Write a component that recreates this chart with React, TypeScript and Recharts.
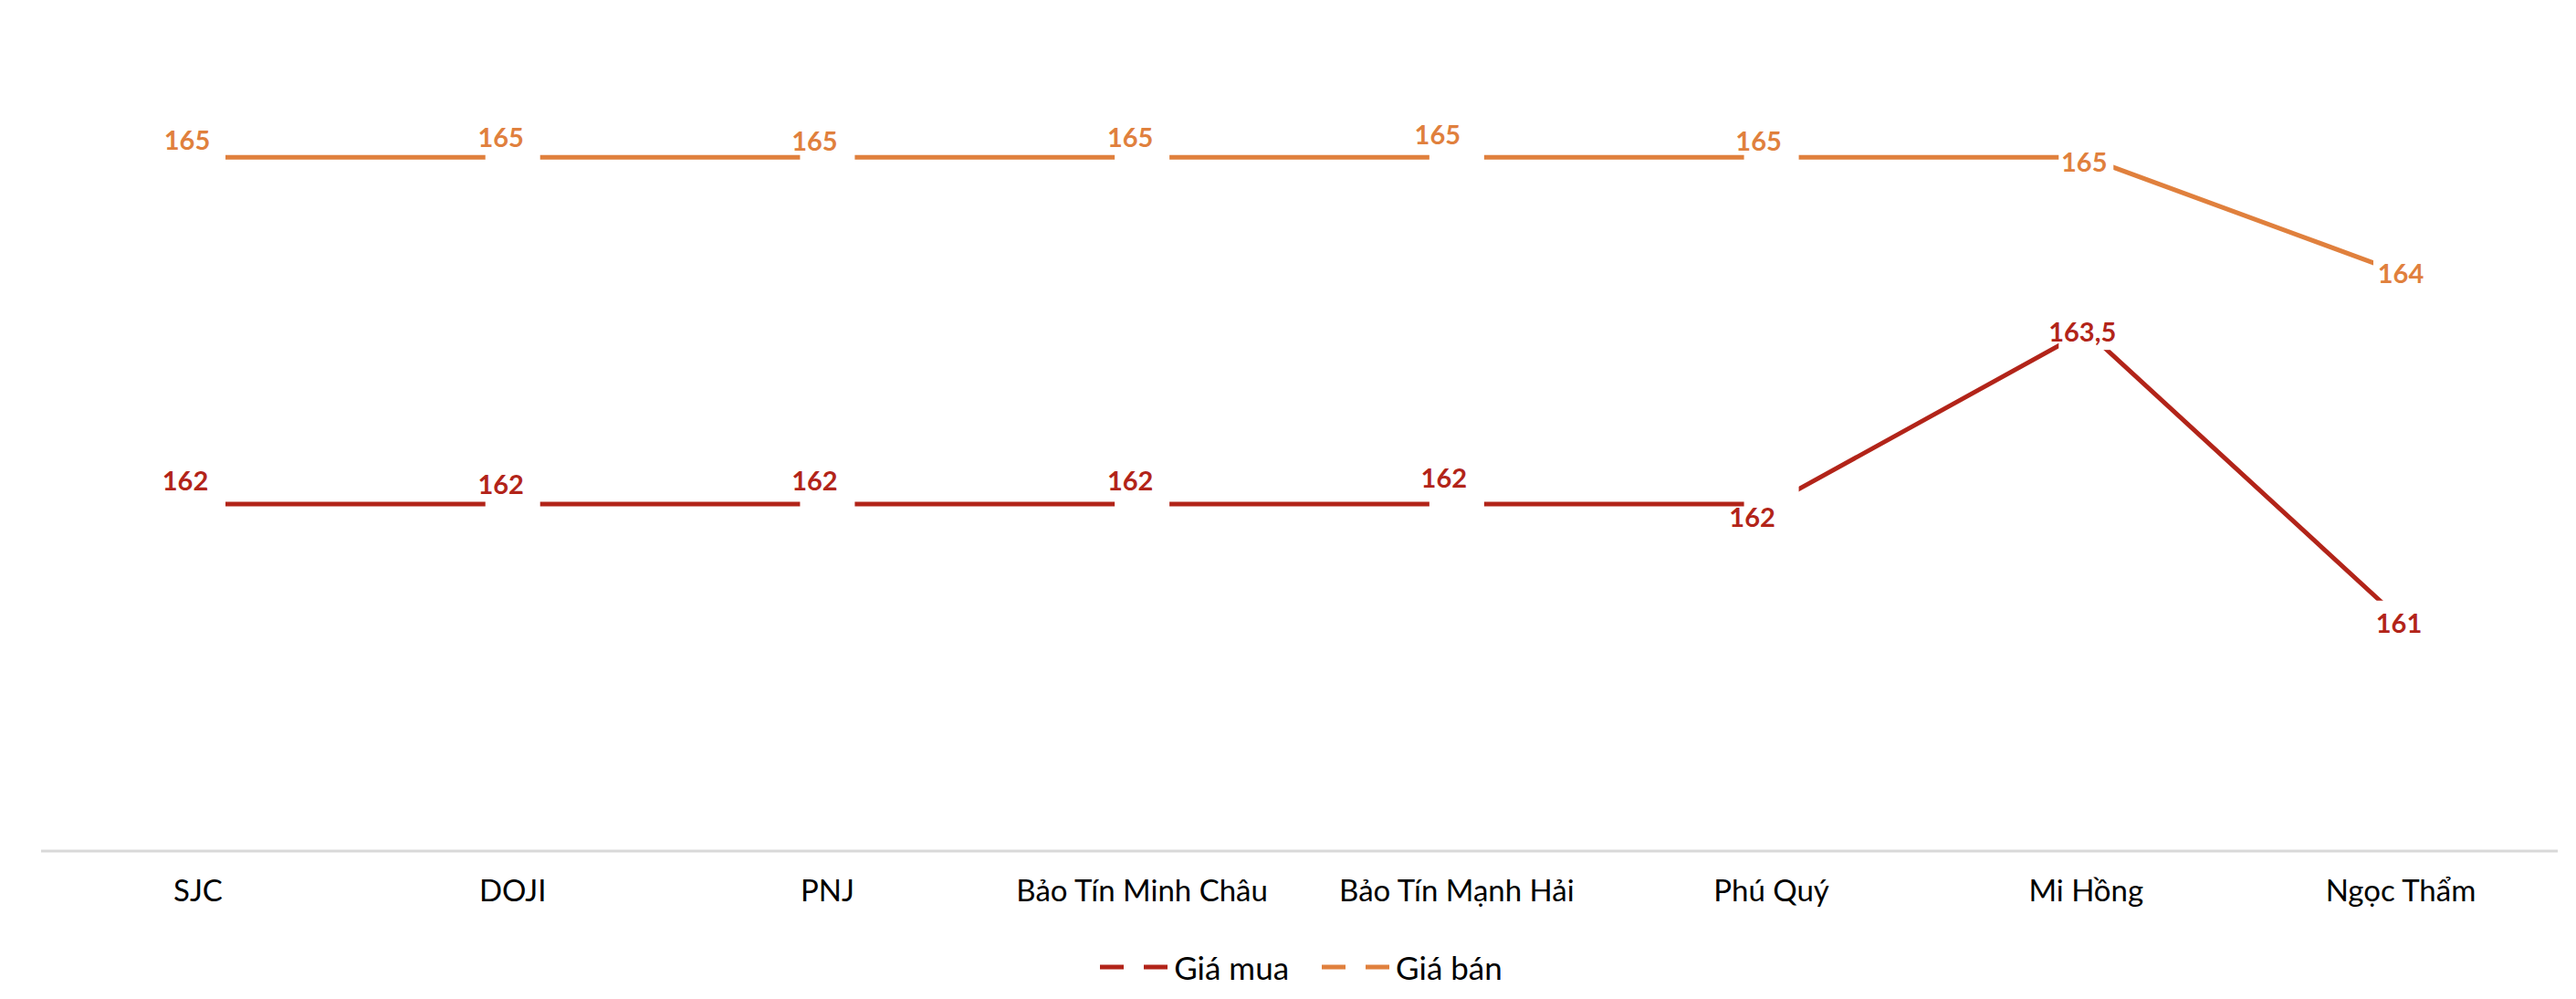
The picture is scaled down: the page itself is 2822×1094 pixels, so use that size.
import { CartesianGrid, Legend, Line, LineChart, XAxis, YAxis } from 'recharts';

const categories = ['SJC', 'DOJI', 'PNJ', 'Bảo Tín Minh Châu', 'Bảo Tín Mạnh Hải', 'Phú Quý', 'Mi Hồng', 'Ngọc Thẩm'];
const buyPrices = [162, 162, 162, 162, 162, 162, 163.5, 161];
const sellPrices = [165, 165, 165, 165, 165, 165, 165, 164];

const BUY_COLOR = '#B22419';
const SELL_COLOR = '#E0803D';
const FONT = "Lato, 'Open Sans', sans-serif";

// label nudges (px) relative to each point, as laid out in the source chart
const buyLabelShift = [[-14, -27], [-13, -23], [-14, -27], [-13, -27], [-14, -30], [-21, 13], [-4, 0], [-2, 3]];
const sellLabelShift = [[-12, -20], [-13, -23], [-14, -19], [-13, -23], [-21, -26], [-14, -19], [-2, 4], [0, 0]];

const data = categories.map((name, i) => ({ name, buy: buyPrices[i], sell: sellPrices[i] }));

const fmt = (v: number) => String(v).replace('.', ',');

function maskDot(props: any) {
  const { cx, cy, index, dataKey } = props;
  return <rect key={`${dataKey}-${index}`} x={cx - 30} y={cy - 21} width={60} height={42} fill="#fff" />;
}

function makeLabel(color: string, shifts: number[][]) {
  return (props: any) => {
    const { x, y, value, index } = props;
    const [dx, dy] = shifts[index] || [0, 0];
    return (
      <text
        key={`lbl-${index}`}
        x={x + dx}
        y={y + dy}
        textAnchor="middle"
        dominantBaseline="central"
        fill={color}
        style={{ fontFamily: FONT, fontWeight: 700, fontSize: 29 }}
      >
        {fmt(value)}
      </text>
    );
  };
}

function LegendContent() {
  const items = [
    { label: 'Giá mua', color: BUY_COLOR },
    { label: 'Giá bán', color: SELL_COLOR },
  ];
  return (
    <div style={{ display: 'flex', justifyContent: 'center', alignItems: 'center', height: 70, paddingLeft: 40 }}>
      {items.map((it) => (
        <div key={it.label} style={{ display: 'flex', alignItems: 'center', marginRight: 36 }}>
          <svg width={74} height={10} style={{ marginRight: 7 }}>
            <line x1={0} y1={5} x2={74} y2={5} stroke={it.color} strokeWidth={5} strokeDasharray="26 22" strokeLinecap="butt" />
          </svg>
          <span style={{ fontFamily: FONT, fontSize: 35, color: '#000' }}>{it.label}</span>
        </div>
      ))}
    </div>
  );
}

export default function App() {
  return (
    <div style={{ position: 'absolute', left: 0, top: 0, width: 2822, height: 1094, background: '#fff' }}>
      <LineChart width={2822} height={1094} data={data} margin={{ top: 0, right: 20, left: 45, bottom: 0 }}>
        <CartesianGrid horizontal={false} vertical={false} />
        <XAxis
          dataKey="name"
          interval={0}
          padding={{ left: 172, right: 172 }}
          height={92}
          axisLine={{ stroke: '#D9D9D9', strokeWidth: 3 }}
          tickLine={false}
          tickSize={0}
          tickMargin={32}
          tick={{ fill: '#000', fontSize: 33, fontFamily: FONT }}
        />
        <YAxis hide domain={[159, 166.36]} />
        <Legend verticalAlign="bottom" height={70} content={<LegendContent />} />
        <Line
          dataKey="buy"
          name="Giá mua"
          stroke={BUY_COLOR}
          strokeWidth={5}
          dot={maskDot}
          activeDot={false}
          label={makeLabel(BUY_COLOR, buyLabelShift)}
          isAnimationActive={false}
        />
        <Line
          dataKey="sell"
          name="Giá bán"
          stroke={SELL_COLOR}
          strokeWidth={5}
          dot={maskDot}
          activeDot={false}
          label={makeLabel(SELL_COLOR, sellLabelShift)}
          isAnimationActive={false}
        />
      </LineChart>
    </div>
  );
}
